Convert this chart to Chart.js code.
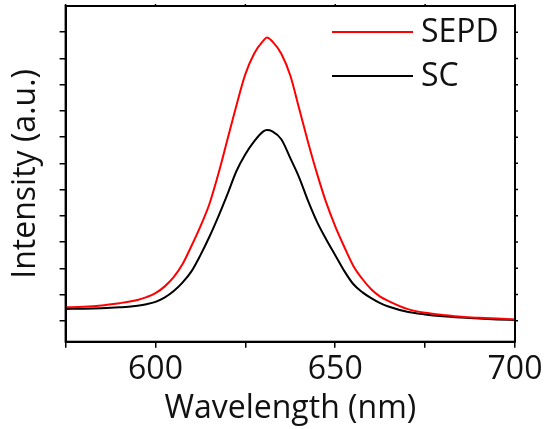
<!DOCTYPE html>
<html>
<head>
<meta charset="utf-8">
<script src="https://cdn.jsdelivr.net/npm/chart.js@4"></script>
<style>
  html, body { margin: 0; padding: 0; background: #fff; }
  .can-con { width: 547px; height: 429px; position: relative; }
</style>
</head>
<body>
<div class="can-con"><canvas id="myChart"></canvas></div>
<script>
// data
const wavelengths = [575, 580, 585, 590, 592.5, 595, 597.5, 600, 602.5, 605, 607.5, 610, 612.5, 615, 617.5, 620, 622.5, 625, 627.5, 630, 631, 632.5, 635, 637.5, 640, 642.5, 645, 647.5, 650, 652.5, 655, 657.5, 660, 662.5, 665, 670, 675, 680, 685, 690, 695, 700];
const sepd = [1.51, 1.53, 1.58, 1.67, 1.72, 1.79, 1.9, 2.05, 2.3, 2.65, 3.15, 3.85, 4.6, 5.45, 6.6, 7.9, 9.2, 10.4, 11.2, 11.68, 11.8, 11.65, 11.18, 10.35, 9.07, 7.78, 6.58, 5.5, 4.6, 3.82, 3.1, 2.6, 2.2, 1.92, 1.74, 1.45, 1.3, 1.22, 1.15, 1.11, 1.08, 1.05];
const sc = [1.45, 1.46, 1.48, 1.51, 1.53, 1.57, 1.63, 1.72, 1.88, 2.12, 2.45, 2.88, 3.5, 4.2, 4.98, 5.82, 6.7, 7.35, 7.85, 8.22, 8.27, 8.22, 7.92, 7.2, 6.45, 5.55, 4.75, 4.1, 3.5, 2.9, 2.4, 2.09, 1.86, 1.67, 1.53, 1.34, 1.24, 1.17, 1.12, 1.08, 1.05, 1.03];
const xTicks = [575, 600, 625, 650, 675, 700];
const xLabels = [600, 650, 700];
const yTicks = [1, 2, 3, 4, 5, 6, 7, 8, 9, 10, 11, 12];
const seriesNames = ["SEPD", "SC"];
const seriesColors = ["#ff0000", "#000000"];

const font = "'Open Sans', sans-serif";
const toPoints = (vals) => vals.map((v, i) => ({ x: wavelengths[i], y: v }));

// box + mirrored ticks + legend inside the plot
const framePlugin = {
  id: "frame",
  afterDraw: function (chart) {
    const c = chart.ctx;
    const a = chart.chartArea;
    const xs = chart.scales.x;
    const ys = chart.scales.y;
    c.save();
    c.strokeStyle = "#000";
    c.lineWidth = 2;
    c.strokeRect(a.left, a.top, a.right - a.left, a.bottom - a.top);
    c.lineWidth = 1.5;
    c.beginPath();
    yTicks.forEach((t) => {
      const y = ys.getPixelForValue(t);
      c.moveTo(a.right, y);
      c.lineTo(a.right + 3, y);
    });
    xTicks.forEach((t) => {
      const x = xs.getPixelForValue(t);
      c.moveTo(x, a.top);
      c.lineTo(x, a.top - 2);
    });
    c.stroke();

    // legend
    c.font = "32px " + font;
    c.textBaseline = "middle";
    c.textAlign = "left";
    chart.data.datasets.forEach((ds, i) => {
      const y = a.top + 26 + i * 44;
      c.strokeStyle = ds.borderColor;
      c.lineWidth = 2;
      c.beginPath();
      c.moveTo(a.right - 183, y);
      c.lineTo(a.right - 102, y);
      c.stroke();
      c.fillStyle = "#111";
      c.fillText(ds.label, a.right - 94, y + 1);
    });
    c.restore();
  },
};

const ctx = document.getElementById("myChart");
const config = {
  type: "line",
  data: {
    datasets: [
      {
        label: seriesNames[0],
        data: toPoints(sepd),
        borderColor: seriesColors[0],
        borderWidth: 2,
        pointRadius: 0,
        cubicInterpolationMode: "monotone",
        fill: false,
      },
      {
        label: seriesNames[1],
        data: toPoints(sc),
        borderColor: seriesColors[1],
        borderWidth: 2,
        pointRadius: 0,
        cubicInterpolationMode: "monotone",
        fill: false,
      },
    ],
  },
  options: {
    animation: false,
    responsive: true,
    maintainAspectRatio: false,
    layout: { padding: { top: 6, right: 32, left: 0, bottom: 0 } },
    plugins: { legend: { display: false }, tooltip: { enabled: false } },
    scales: {
      x: {
        type: "linear",
        min: 575,
        max: 700,
        afterBuildTicks: (s) => { s.ticks = xTicks.map((v) => ({ value: v })); },
        afterFit: (s) => { s.height = 87.3; },
        border: { color: "#000", width: 2 },
        grid: { drawOnChartArea: false, color: "#000", lineWidth: 1.5, tickLength: 6 },
        ticks: {
          color: "#111",
          font: { family: font, size: 32 },
          padding: 3,
          maxRotation: 0,
          callback: (v) => (xLabels.includes(v) ? String(v) : ""),
        },
        title: {
          display: true,
          text: "Wavelength (nm)",
          color: "#111",
          font: { family: font, size: 32 },
          padding: { top: 0, bottom: 1 },
        },
      },
      y: {
        type: "linear",
        min: 0.2,
        max: 13,
        afterBuildTicks: (s) => { s.ticks = yTicks.map((v) => ({ value: v })); },
        afterFit: (s) => { s.width = 65.6; },
        border: { color: "#000", width: 2 },
        grid: { drawOnChartArea: false, color: "#000", lineWidth: 1.5, tickLength: 6 },
        ticks: { display: false },
        title: {
          display: true,
          text: "Intensity (a.u.)",
          color: "#111",
          font: { family: font, size: 32 },
          padding: { top: 7, bottom: 0 },
        },
      },
    },
  },
  plugins: [framePlugin],
};

const myChart = new Chart(ctx, config);
</script>
</body>
</html>
